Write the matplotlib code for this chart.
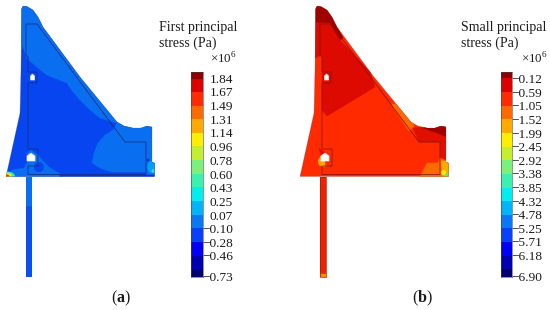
import matplotlib
matplotlib.use("Agg")
import matplotlib.pyplot as plt
from matplotlib.colors import ListedColormap, BoundaryNorm
from matplotlib.patches import Polygon, Ellipse, Circle
import numpy as np

plt.rcParams['font.family'] = ['Liberation Serif', 'DejaVu Serif']
plt.rcParams['mathtext.fontset'] = 'custom'
plt.rcParams['mathtext.rm'] = 'Liberation Serif'
plt.rcParams['mathtext.bf'] = 'Liberation Serif:bold'

W, H = 550, 310

# Colour legend contents
band_colors = ['#8f0000', '#dc0000', '#ff2a00', '#ff6a00', '#ffaa00', '#ffee00',
               '#c4ee30', '#7cf07c', '#3cf0b0', '#00eef0', '#00b4fa', '#0a78f5',
               '#0a40fa', '#0000f5', '#0000b0', '#000070']
first_levels = [1.93, 1.84, 1.67, 1.49, 1.31, 1.14, 0.96, 0.78, 0.60, 0.43,
                0.25, 0.07, -0.10, -0.28, -0.46, -0.64, -0.73]
first_ticks = [1.84, 1.67, 1.49, 1.31, 1.14, 0.96, 0.78, 0.60, 0.43, 0.25,
               0.07, -0.10, -0.28, -0.46, -0.73]
small_levels = [0.11, -0.12, -0.59, -1.05, -1.52, -1.99, -2.45, -2.92, -3.38,
                -3.85, -4.32, -4.78, -5.25, -5.71, -6.18, -6.64, -6.90]
small_ticks = [-0.12, -0.59, -1.05, -1.52, -1.99, -2.45, -2.92, -3.38, -3.85,
               -4.32, -4.78, -5.25, -5.71, -6.18, -6.90]

# Section geometry (same for both panels)
outline = [(6, 176.5), (20, 113), (21, 70), (21.5, 17), (21.5, 9), (23, 6), (27, 6.5), (33, 10),
           (38, 17), (43, 27), (80, 77), (117, 122), (124, 126), (133, 128), (141, 128), (147, 126),
           (152, 127), (152, 162), (154.5, 163), (154.5, 176.5)]
inner = [(26, 24), (37, 24), (125, 142), (146, 142), (146, 174.5), (28, 174.5), (28, 166),
         (38, 166), (38, 149), (28, 149), (28, 83), (37, 83), (37, 72), (28, 72), (28, 57),
         (26, 55)]
stem = [(26, 177), (32, 177), (32, 277), (26, 277)]
upper_hole = [(30.5, 80), (30.5, 76), (32.5, 74), (34.5, 76), (34.5, 80)]
lower_hole = [(27, 161), (27, 156), (31, 153), (35, 156), (35, 161)]

# Stress zones, panel (a)
a_light_zone = [(15, 0), (21.7, 43), (26.7, 58), (36.7, 67), (46.7, 75), (66.7, 83), (73, 92), (80, 100),
                (90, 110), (100, 118), (117, 123), (113, 130), (105, 135), (98, 143), (94, 153), (92, 163),
                (100, 168), (112, 172), (146, 172), (146, 175), (160, 175), (160, 0)]
a_base_band = [(5, 177), (12, 170), (24, 168), (28, 161), (26, 154), (31, 150), (38, 155), (43, 161),
               (50, 168), (62, 175), (62, 177)]
a_bottom_strip = [(60, 175), (155, 175), (155, 177), (60, 177)]
a_stem_upper = [(26, 177), (32, 177), (32, 206), (26, 206)]
a_hot_zones = [((7, 176.5), 16, 10, '#3cf0b0'), ((7, 176.5), 10, 7, '#ffee00'), ((7, 176.5), 5, 4, '#ff2a00')]

# Stress zones, panel (b)
b_tip_zone = [(15, 0), (21, 22), (36, 23), (46, 40), (49, 38), (30, 0)]
b_mid_zone = [(15, 22), (36, 23), (46, 40), (76, 72), (81, 87), (33, 116), (28, 110), (28, 55), (21, 58)]
b_orange_edge = [(97, 104), (110, 104), (120, 126), (115, 131)]
b_right_mid = [(119, 128), (152, 125), (156, 160), (146, 158), (146, 142), (125, 142)]
b_right_dark = [(129, 128), (153, 125), (153, 137), (143, 133)]
b_right_orange = [(126, 177), (133, 163), (144, 163), (146, 158), (156, 163), (156, 177)]
b_right_amber = [(147, 161), (156, 161), (156, 177), (149, 177)]
b_spots = [((149.5, 172.5), 5, 5, '#ffee00'), ((153, 175), 4, 3.5, '#3cf0b0')]
b_hole_orange = [(25, 165), (24, 160), (28, 155), (31, 161), (31, 167)]
b_hole_dark = [(25, 148), (31, 153), (27, 155)]
b_stem_tip = [(26, 274), (32, 274), (32, 277), (26, 277)]

fig = plt.figure(figsize=(W / 100, H / 100), dpi=100)


def px_axes(x0, y0, x1, y1):
    return fig.add_axes([x0 / W, 1 - y1 / H, (x1 - x0) / W, (y1 - y0) / H])


def section_axes(left):
    ax = px_axes(left, 0, left + 160, 290)
    ax.set_xlim(0, 160)
    ax.set_ylim(290, 0)
    ax.axis('off')
    return ax


def fill_zone(ax, pts, color, clip, z=2):
    p = Polygon(pts, closed=True, fc=color, ec=color, lw=0.3, zorder=z)
    ax.add_patch(p)
    p.set_clip_path(clip)
    return p


def draw_section(ax, base, stem_color):
    body = Polygon(outline, closed=True, fc=base, ec='none', zorder=1)
    ax.add_patch(body)
    st = Polygon(stem, closed=True, fc=stem_color, ec='none', zorder=1)
    ax.add_patch(st)
    return body, st


def finish_section(ax, line_color):
    ax.add_patch(Polygon(inner, closed=True, fc='none', ec=line_color, lw=0.55, zorder=6))
    for hole in (upper_hole, lower_hole):
        ax.add_patch(Polygon(hole, closed=True, fc='white', ec='#e8e8e8', lw=0.5, zorder=7))
    ax.add_patch(Polygon(outline, closed=True, fc='none', ec='#555555', lw=0.3, alpha=0.5, zorder=5))


# Panel (a)
ax_a = section_axes(0)
body_a, stem_a = draw_section(ax_a, '#0645f0', '#0a50f0')
fill_zone(ax_a, a_light_zone, '#0a6ef0', body_a)
fill_zone(ax_a, a_base_band, '#0a6ef0', body_a, 3)
fill_zone(ax_a, a_bottom_strip, '#0634d8', body_a, 3)
fill_zone(ax_a, a_stem_upper, '#0a6ef0', stem_a, 3)
for center, r, color in [((39, 167), 5, '#0645f0'), ((28.5, 157), 3, '#0645f0')]:
    c = Circle(center, r, fc=color, ec='none', zorder=3)
    ax_a.add_patch(c)
    c.set_clip_path(body_a)
for center, w, h, color in [((151, 167), 7, 12, '#00a0fa'), ((148, 160), 3, 3, '#0634d8'), ((153, 171), 3, 4, '#3cd0e0')]:
    e = Ellipse(center, w, h, fc=color, ec='none', zorder=4)
    ax_a.add_patch(e)
    e.set_clip_path(body_a)
for center, w, h, color in a_hot_zones:
    e = Ellipse(center, w, h, fc=color, ec='none', zorder=4)
    ax_a.add_patch(e)
    e.set_clip_path(body_a)
finish_section(ax_a, '#14307a')

# Panel (b)
ax_b = section_axes(294)
body_b, stem_b = draw_section(ax_b, '#ff2a00', '#ee2400')
fill_zone(ax_b, b_mid_zone, '#dc0a00', body_b)
fill_zone(ax_b, b_tip_zone, '#a00000', body_b, 3)
fill_zone(ax_b, b_orange_edge, '#ff6a00', body_b, 3)
fill_zone(ax_b, b_right_mid, '#e01000', body_b, 3)
fill_zone(ax_b, b_right_dark, '#a00000', body_b, 4)
fill_zone(ax_b, b_right_orange, '#ff6a00', body_b, 3)
fill_zone(ax_b, b_right_amber, '#ffaa00', body_b, 3)
fill_zone(ax_b, b_hole_orange, '#ffaa00', body_b, 3)
fill_zone(ax_b, b_hole_dark, '#dc0a00', body_b, 3)
fill_zone(ax_b, b_stem_tip, '#ff8a00', stem_b, 3)
for center, w, h, color in b_spots:
    e = Ellipse(center, w, h, fc=color, ec='none', zorder=4)
    ax_b.add_patch(e)
    e.set_clip_path(body_b)
finish_section(ax_b, '#8a1408')
ax_b.add_patch(Polygon(stem, closed=True, fc='none', ec='#b01800', lw=0.5, zorder=5))


def draw_bar(rect, levels, ticks, pad):
    ax = px_axes(*rect)
    asc = np.array(levels[::-1])
    cmap = ListedColormap(band_colors[::-1])
    norm = BoundaryNorm(asc, cmap.N)
    mids = (asc[:-1] + asc[1:]) / 2
    ax.pcolormesh([0, 1], asc, mids[:, None], cmap=cmap, norm=norm, edgecolors='none')
    ax.set_ylim(asc[0], asc[-1])
    ax.set_xticks([])
    ax.yaxis.tick_right()
    ax.set_yticks(ticks)
    ax.set_yticklabels([f'{t:.2f}'.replace('-', '\u2212') for t in ticks], fontsize=9.6, color='#1a1a1a')
    ax.tick_params(axis='y', length=0, pad=pad)
    for lab in ax.get_yticklabels():
        lab.set_ha('right')
    for s in ax.spines.values():
        s.set_linewidth(0.4)
        s.set_color('#444444')


draw_bar((190.7, 71.7, 202.7, 276.7), first_levels, first_ticks, 21.9)
draw_bar((500.7, 71.7, 512.3, 276.7), small_levels, small_ticks, 21.4)


def put(x, y, s, **kw):
    fig.text(x / W, 1 - y / H, s, color='#1a1a1a', **kw)


put(159, 27, 'First principal', fontsize=10, ha='left', va='center')
put(159, 43, 'stress (Pa)', fontsize=10, ha='left', va='center')
put(461, 28, 'Small principal', fontsize=10, ha='left', va='center')
put(461, 43, 'stress (Pa)', fontsize=10, ha='left', va='center')
put(210, 59, '×10$^{6}$', fontsize=9.4, ha='left', va='center')
put(521, 59, '×10$^{6}$', fontsize=9.4, ha='left', va='center')
put(120.5, 298, r'($\mathbf{a}$)', fontsize=11.5, ha='center', va='center')
put(422, 298, r'($\mathbf{b}$)', fontsize=11.5, ha='center', va='center')

fig.savefig('out.png', dpi=100, facecolor='white')
